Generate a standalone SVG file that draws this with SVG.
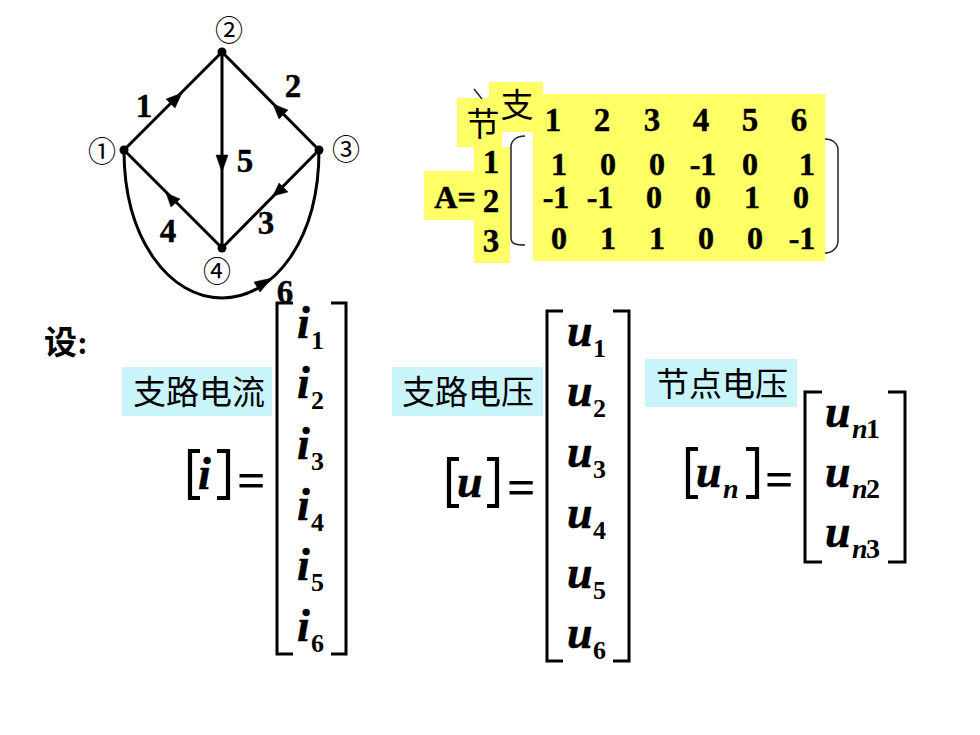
<svg xmlns="http://www.w3.org/2000/svg" width="980" height="735" viewBox="0 0 980 735">
<style>
.w{fill:none;stroke:#000;stroke-width:3}
.a{fill:#000;stroke:#000;stroke-width:.5}
.b{fill:none;stroke:#000;stroke-width:3}
.bb{fill:none;stroke:#000;stroke-width:4.2}
.p{fill:none;stroke:#222;stroke-width:1.5}
.y{fill:#ffff66}
.c{fill:#c9f5fa}
text{fill:#000}
.n{font:bold 33px "Liberation Serif",serif;text-anchor:middle;stroke:#000;stroke-width:.4}
.m{font:bold 32px "Liberation Serif",serif;text-anchor:middle;stroke:#000;stroke-width:.5}
.h{font:33px "Noto Sans CJK SC",sans-serif;text-anchor:middle}
.k{font:33px "Noto Sans CJK SC",sans-serif}
.o{font:28px "Noto Sans CJK SC",sans-serif;text-anchor:middle}
.v{font:italic bold 46px "Liberation Serif",serif;stroke:#000;stroke-width:.5}
.s{font:bold 26px "Liberation Serif",serif}
.sn{font:bold 28px "Liberation Serif",serif}
.si{font:italic bold 28px "Liberation Serif",serif}
.e{font:bold 50px "Liberation Serif",serif}
</style>
<g id="connectors">
<path class="w" d="M124,150 L222,52"/>
<path class="w" d="M319,150 L222,52"/>
<path class="w" d="M319,150 L222,248"/>
<path class="w" d="M222,248 L124,150"/>
<path class="w" d="M222,52 L222,248"/>
<path class="w" d="M124,150 C124,240 170,298 222,298 C274,298 319,240 319,150"/>
<polygon class="a" points="182,93 166,99 175,108"/>
<polygon class="a" points="273,104 288,110 279,119"/>
<polygon class="a" points="273,196 279,183 288,192"/>
<polygon class="a" points="166,193 180,199 171,207"/>
<polygon class="a" points="222,172 216,155 228,155"/>
<polygon class="a" points="272,278 254,282 260,292"/>
</g>
<g id="node1"><circle cx="124" cy="150" r="4.5"/><text class="o" x="102" y="162">①</text></g>
<g id="node2"><circle cx="222" cy="52" r="4.5"/><text class="o" x="229" y="41">②</text></g>
<g id="node3"><circle cx="319" cy="150" r="4.5"/><text class="o" x="346" y="160">③</text></g>
<g id="node4"><circle cx="222" cy="248" r="4.5"/><text class="o" x="217" y="282">④</text></g>
<g id="edge-labels">
<text class="n" x="144" y="117">1</text>
<text class="n" x="293" y="97">2</text>
<text class="n" x="266" y="234">3</text>
<text class="n" x="168" y="242">4</text>
<text class="n" x="245" y="172">5</text>
<text class="n" x="285" y="303">6</text>
</g>
<g id="incidence-matrix">
<rect class="y" x="533" y="94" width="292" height="167"/>
<rect class="y" x="489" y="82" width="54" height="50"/>
<rect class="y" x="457" y="98" width="45" height="49"/>
<rect class="y" x="474" y="147" width="36" height="116"/>
<rect class="y" x="424" y="171" width="50" height="49"/>
<path class="p" d="M474,89 L482,99"/>
<path class="p" d="M525,136 C516,136 511,141 511,147 L511,238 C511,244 516,245 525,245"/>
<path class="p" d="M825,139 C833,139 838,144 838,150 L838,241 C838,247 833,253 825,253"/>
<text class="h" x="483" y="136">节</text>
<text class="h" x="517" y="117">支</text>
<text class="n" x="553" y="131">1</text><text class="n" x="602" y="131">2</text><text class="n" x="652" y="131">3</text><text class="n" x="701" y="131">4</text><text class="n" x="750" y="131">5</text><text class="n" x="799" y="131">6</text>
<text class="n" x="491" y="173">1</text><text class="n" x="491" y="212">2</text><text class="n" x="491" y="252">3</text>
<text class="m" x="455" y="208">A=</text>
<text class="m" x="559" y="175">1</text><text class="m" x="608" y="175">0</text><text class="m" x="657" y="175">0</text><text class="m" x="703" y="175">-1</text><text class="m" x="750" y="175">0</text><text class="m" x="807" y="175">1</text>
<text class="m" x="556" y="208">-1</text><text class="m" x="600" y="208">-1</text><text class="m" x="654" y="208">0</text><text class="m" x="703" y="208">0</text><text class="m" x="752" y="208">1</text><text class="m" x="801" y="208">0</text>
<text class="m" x="559" y="249">0</text><text class="m" x="608" y="249">1</text><text class="m" x="657" y="249">1</text><text class="m" x="706" y="249">0</text><text class="m" x="755" y="249">0</text><text class="m" x="802" y="249">-1</text>
</g>
<g id="let-label"><text x="44" y="354" style="font:bold 33px 'Noto Sans CJK SC',sans-serif">设<tspan style="font:bold 33px 'Liberation Serif',serif">:</tspan></text></g>
<g id="branch-current">
<rect class="c" x="122" y="367" width="150" height="49"/>
<text class="k" x="133" y="404">支路电流</text>
<path class="bb" d="M200,451 H190 V498 H200"/>
<path class="bb" d="M217,451 H228 V498 H217"/>
<text class="v" x="198" y="489">i</text>
<text class="e" x="237" y="497">=</text>
<path class="b" d="M293,303 H277 V654 H293"/>
<path class="b" d="M331,303 H346 V654 H331"/>
<text class="v" x="297" y="338">i</text><text class="s" x="311" y="349">1</text>
<text class="v" x="297" y="398">i</text><text class="s" x="311" y="409">2</text>
<text class="v" x="297" y="459">i</text><text class="s" x="311" y="470">3</text>
<text class="v" x="297" y="520">i</text><text class="s" x="311" y="531">4</text>
<text class="v" x="297" y="580">i</text><text class="s" x="311" y="591">5</text>
<text class="v" x="297" y="641">i</text><text class="s" x="311" y="652">6</text>
</g>
<g id="branch-voltage">
<rect class="c" x="392" y="367" width="151" height="49"/>
<text class="k" x="402" y="404">支路电压</text>
<path class="bb" d="M459,459 H449 V506 H459"/>
<path class="bb" d="M487,459 H497 V506 H487"/>
<text class="v" x="457" y="497">u</text>
<text class="e" x="507" y="504">=</text>
<path class="b" d="M563,311 H547 V661 H563"/>
<path class="b" d="M613,311 H629 V661 H613"/>
<text class="v" x="567" y="346">u</text><text class="s" x="593" y="357">1</text>
<text class="v" x="567" y="406">u</text><text class="s" x="593" y="417">2</text>
<text class="v" x="567" y="467">u</text><text class="s" x="593" y="478">3</text>
<text class="v" x="567" y="528">u</text><text class="s" x="593" y="539">4</text>
<text class="v" x="567" y="588">u</text><text class="s" x="593" y="599">5</text>
<text class="v" x="567" y="648">u</text><text class="s" x="593" y="659">6</text>
</g>
<g id="node-voltage">
<rect class="c" x="645" y="359" width="152" height="48"/>
<text class="k" x="656" y="396">节点电压</text>
<path class="bb" d="M698,449 H688 V497 H698"/>
<path class="bb" d="M746,449 H757 V497 H746"/>
<text class="v" x="696" y="487">u</text><text class="si" x="723" y="498">n</text>
<text class="e" x="765" y="496">=</text>
<path class="b" d="M822,392 H805 V562 H822"/>
<path class="b" d="M888,392 H905 V562 H888"/>
<text class="v" x="825" y="427">u</text><text class="si" x="852" y="438">n</text><text class="sn" x="866" y="438">1</text>
<text class="v" x="825" y="487">u</text><text class="si" x="852" y="498">n</text><text class="sn" x="866" y="498">2</text>
<text class="v" x="825" y="547">u</text><text class="si" x="852" y="558">n</text><text class="sn" x="866" y="558">3</text>
</g>
</svg>
